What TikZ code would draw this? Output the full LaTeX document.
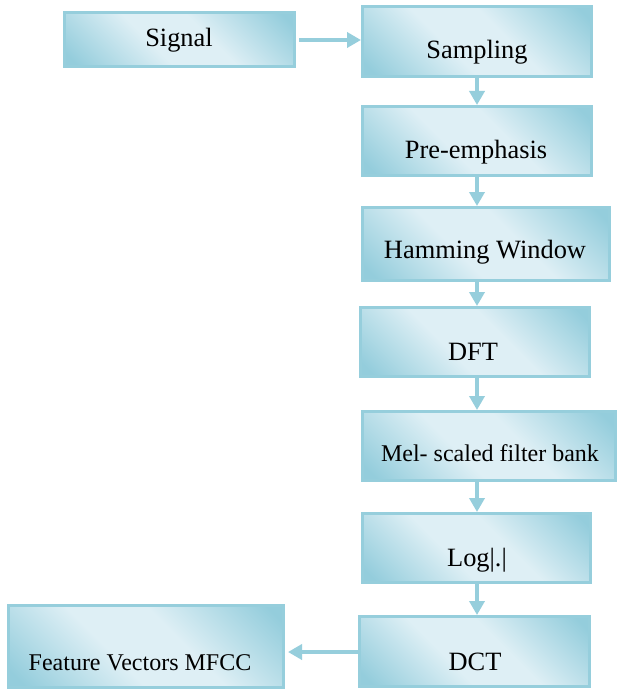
\documentclass[tikz,border=0pt]{standalone}
\usepackage{fontspec}
\setmainfont{Liberation Serif}
\usetikzlibrary{arrows.meta}

\definecolor{boxedge}{RGB}{150,206,220}
\definecolor{boxdark}{RGB}{148,205,220}
\definecolor{boxlight}{RGB}{222,239,245}

% diagonal band: dark corners, light stripe through the middle
\pgfdeclarehorizontalshading{bandshade}{100bp}{%
  color(0bp)=(boxdark); color(18bp)=(boxdark); color(42bp)=(boxlight);
  color(58bp)=(boxlight); color(82bp)=(boxdark); color(100bp)=(boxdark)}

\tikzset{
  stagebox/.style={draw=boxedge, line width=1.5pt, shading=bandshade,
    shading angle=45, rectangle, inner sep=0pt},
  stagetext/.style={font=\fontsize{13.2}{15}\selectfont, inner sep=0pt},
  smalltext/.style={font=\fontsize{12}{14}\selectfont, inner sep=0pt},
  flow/.style={draw=boxedge, line width=1.8pt,
    -{Triangle[width=7.5pt,length=7pt]}}
}

\begin{document}
\begin{tikzpicture}[x=0.5pt, y=-0.5pt]
\useasboundingbox (0,0) rectangle (618,690);
\fill[white] (0,0) rectangle (618,690);

% boxes
\node[stagebox, minimum width=115pt, minimum height=27pt] (sig) at (179.5,39.5) {};
\node[stagebox, minimum width=114.5pt, minimum height=35pt] (samp) at (477,41.5) {};
\node[stagebox, minimum width=114.5pt, minimum height=34.5pt] (pre) at (477,141) {};
\node[stagebox, minimum width=123.5pt, minimum height=36.5pt] (ham) at (486,244) {};
\node[stagebox, minimum width=114.5pt, minimum height=34.5pt] (dft) at (475,342) {};
\node[stagebox, minimum width=126.5pt, minimum height=34.5pt] (mel) at (489,446) {};
\node[stagebox, minimum width=114pt, minimum height=34.5pt] (log) at (476.5,548) {};
\node[stagebox, minimum width=115pt, minimum height=35pt] (dct) at (474.5,651.5) {};
\node[stagebox, minimum width=137.5pt, minimum height=41pt] (feat) at (146,646.5) {};

% labels
\node[stagetext] (sig-t) at (179,40) {Signal};
\node[stagetext] (samp-t) at (477,52) {Sampling};
\node[stagetext] (pre-t) at (476,152) {Pre-emphasis};
\node[stagetext] (ham-t) at (485,252) {Hamming Window};
\node[stagetext] (dft-t) at (473,352) {DFT};
\node[smalltext] (mel-t) at (490,453) {Mel- scaled filter bank};
\node[stagetext] (log-t) at (477,560) {Log|.|};
\node[stagetext] (dct-t) at (475,662) {DCT};
\node[smalltext] (feat-t) at (140,663) {Feature Vectors MFCC};

% connectors
\coordinate (spine) at (477,0);
\coordinate (outrow) at (0,652);
\draw[flow, shorten <=1.5pt] (sig.east |- 0,40) -- (samp.west |- 0,40);
\draw[flow] (samp.south -| spine) -- (pre.north -| spine);
\draw[flow] (pre.south -| spine) -- (ham.north -| spine);
\draw[flow] (ham.south -| spine) -- (dft.north -| spine);
\draw[flow] (dft.south -| spine) -- (mel.north -| spine);
\draw[flow] (mel.south -| spine) -- (log.north -| spine);
\draw[flow] (log.south -| spine) -- (dct.north -| spine);
\draw[flow, shorten >=1.5pt] (dct.west |- outrow) -- (feat.east |- outrow);
\end{tikzpicture}
\end{document}
